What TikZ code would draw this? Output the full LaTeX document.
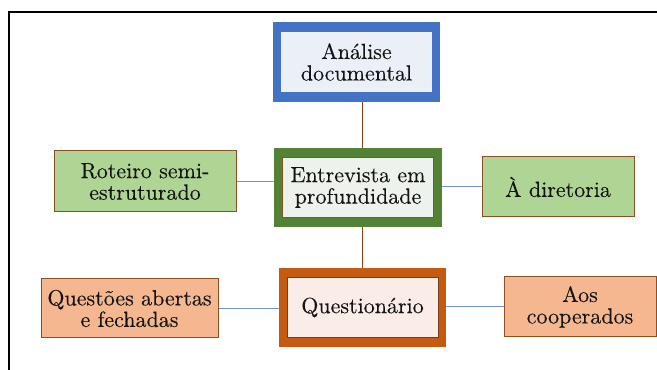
\documentclass[tikz,border=0pt]{standalone}
\usepackage{fontspec}
\newfontfamily\boxfont{lmroman10-regular.otf}[FakeBold=0.15]
\usepackage{tikz}

\definecolor{frameblue}{HTML}{4472C4}
\definecolor{innerblue}{HTML}{EBEFF8}
\definecolor{framegreen}{HTML}{548235}
\definecolor{innergreen}{HTML}{EEF2EC}
\definecolor{frameorange}{HTML}{C55A11}
\definecolor{innerorange}{HTML}{FAEDE8}
\definecolor{leafgreen}{HTML}{AED594}
\definecolor{leaforange}{HTML}{F4B78F}
\definecolor{edgebrown}{HTML}{8F4E22}
\definecolor{stembrown}{HTML}{8B3F12}
\definecolor{branchblue}{HTML}{7096D8}

\tikzset{
    outerbox/.style={rectangle, minimum width=167pt, minimum height=80pt, inner sep=0pt},
    innerbox/.style={rectangle, minimum width=151pt, minimum height=60pt, inner sep=0pt, align=center},
    leafbox/.style={rectangle, minimum height=60pt, inner sep=0pt, align=center, draw=edgebrown, line width=1pt},
    stem/.style={draw=stembrown, line width=1.6pt},
    branch/.style={draw=branchblue, line width=1pt},
}

\begin{document}
\begin{tikzpicture}[x=1pt, y=1pt, font=\boxfont\fontsize{22}{21.5}\selectfont, text=black!92]
    \useasboundingbox (0,0) rectangle (657,370);
    % outer frame, open to the right and bottom
    \draw [line width=2pt] (9,0) -- (9,358) -- (657,358);

    % centre column
    \node [outerbox, fill=frameblue] (analise) at (356.5,308) {};
    \node [innerbox, fill=innerblue] (analisetext) at (analise) {Análise\\documental};
    \node [outerbox, fill=framegreen, minimum width=168pt, minimum height=79pt] (entrevista) at (358,182.5) {};
    \node [innerbox, fill=innergreen, draw=edgebrown, line width=1pt] (entrevistatext) at (entrevista) {Entrevista em\\profundidade};
    \node [outerbox, fill=frameorange, minimum height=79pt] (questionario) at (362.5,62.5) {};
    \node [innerbox, fill=innerorange, draw=edgebrown!80!black, line width=0.8pt] (questionariotext) at (questionario) {Questionário};

    % side boxes
    \node [leafbox, fill=leafgreen, minimum width=182pt, minimum height=61pt] (roteiro) at (145,188.5) {Roteiro semi-\\estruturado};
    \node [leafbox, fill=leafgreen, minimum width=152pt] (diretoria) at (558,183) {À diretoria};
    \node [leafbox, fill=leaforange, minimum width=177pt, minimum height=59pt] (questoes) at (129.5,61.5) {Questões abertas\\e fechadas};
    \node [leafbox, fill=leaforange, minimum width=152pt] (cooperados) at (580,63) {Aos\\cooperados};

    \draw [stem] (analise.south -| questionario.north) -- (entrevista.north -| questionario.north);
    \draw [stem] (entrevista.south -| questionario.north) -- (questionario.north);
    \draw [branch] (roteiro.east) -- (roteiro.east -| entrevista.west);
    \draw [branch] (diretoria.west -| entrevista.east) -- (diretoria.west);
    \draw [branch] (questoes.east) -- (questoes.east -| questionario.west);
    \draw [branch] (cooperados.west -| questionario.east) -- (cooperados.west);
\end{tikzpicture}
\end{document}
